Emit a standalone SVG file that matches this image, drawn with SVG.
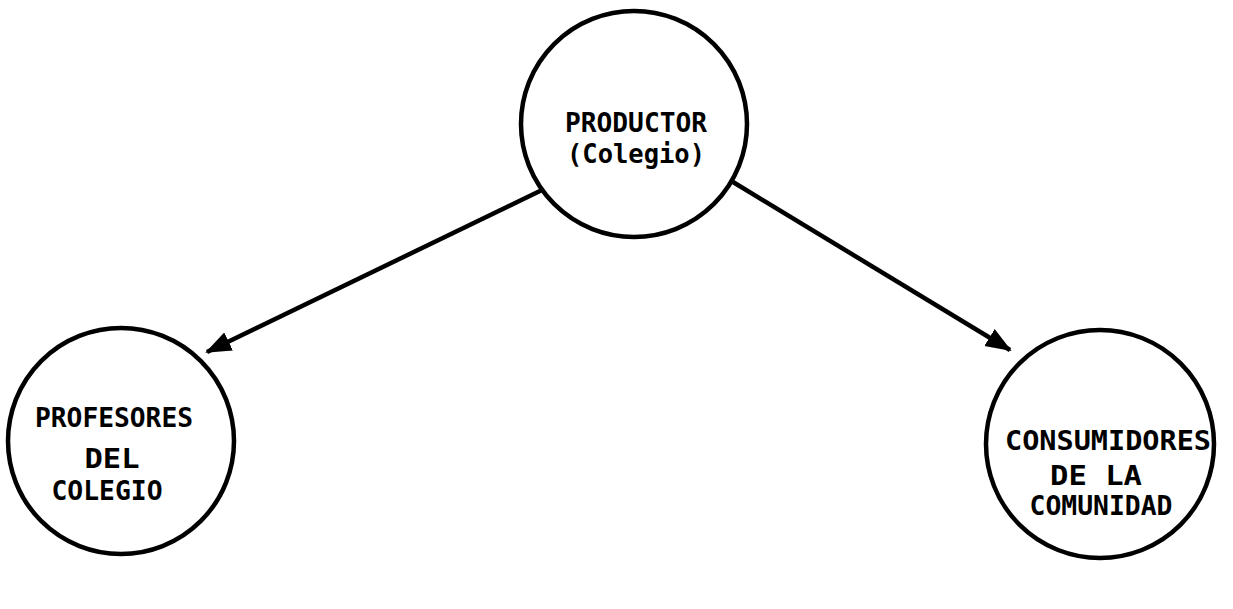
<svg xmlns="http://www.w3.org/2000/svg" width="1233" height="609" viewBox="0 0 1233 609">
<style>
.node circle{fill:#fff;stroke:#000;stroke-width:4.5}
.node text{font-family:"DejaVu Sans Mono","Liberation Mono",monospace;font-weight:bold;font-size:27px;fill:#000;text-anchor:middle}
.node text.s{font-size:26px}
.edge{stroke:#000;stroke-width:4.5;fill:none;marker-end:url(#ah)}
</style>
<defs>
<marker id="ah" markerUnits="userSpaceOnUse" markerWidth="26" markerHeight="22" viewBox="0 0 26 22" refX="24" refY="11" orient="auto">
<path d="M0,1 L26,11 L0,21 Z" fill="#000"/>
</marker>
</defs>
<rect width="1233" height="609" fill="#fff"/>
<g id="connectors">
<line class="edge" x1="542" y1="190" x2="207" y2="352"/>
<line class="edge" x1="733" y1="182" x2="1010" y2="350"/>
</g>
<g id="productor" class="node">
<circle cx="634" cy="124" r="113"/>
<text x="636" y="132" textLength="142" lengthAdjust="spacingAndGlyphs">PRODUCTOR</text>
<text x="636" y="163" textLength="138" lengthAdjust="spacingAndGlyphs">(Colegio)</text>
</g>
<g id="profesores" class="node">
<circle cx="121" cy="441" r="113"/>
<text x="114" y="427" textLength="158" lengthAdjust="spacingAndGlyphs">PROFESORES</text>
<text x="112" y="468" textLength="55" lengthAdjust="spacingAndGlyphs">DEL</text>
<text x="107" y="500" textLength="111" lengthAdjust="spacingAndGlyphs">COLEGIO</text>
</g>
<g id="consumidores" class="node">
<circle cx="1100" cy="444" r="114"/>
<text x="1108" y="450" textLength="206" lengthAdjust="spacingAndGlyphs">CONSUMIDORES</text>
<text class="s" x="1096" y="485" textLength="92" lengthAdjust="spacingAndGlyphs">DE LA</text>
<text class="s" x="1101" y="515" textLength="143" lengthAdjust="spacingAndGlyphs">COMUNIDAD</text>
</g>
</svg>
